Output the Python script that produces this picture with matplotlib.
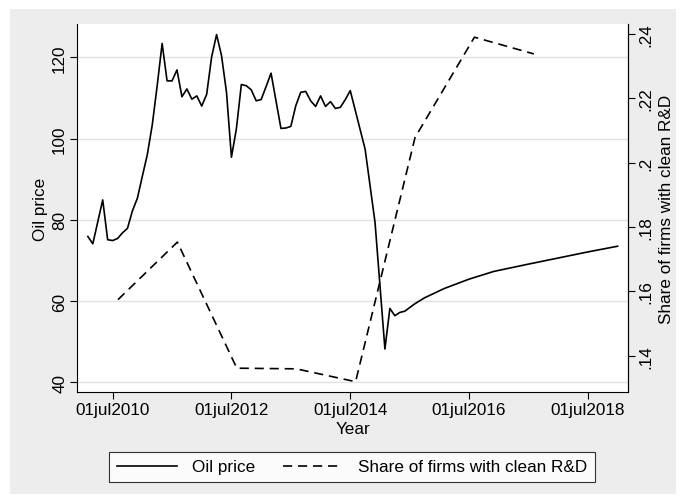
import numpy as np
import matplotlib.pyplot as plt
from matplotlib.patches import Rectangle
from matplotlib.ticker import FixedLocator

# ------------------------- #
# Dados
# ------------------------- #

# oil price, monthly; month index counted from jul 2010 (= 0)
oil_month = [-5, -4, -2, -1, 0, 1, 2, 3, 4, 5, 6, 7, 8, 9, 10, 11, 12, 13, 14,
             15, 16, 17, 18, 19, 20, 21, 22, 23, 24, 25, 26, 27, 28, 29, 30, 31,
             32, 33, 34, 35, 36, 37, 38, 39, 40, 41, 42, 43, 44, 45, 46, 47, 48,
             51, 53, 55, 56, 57, 58, 59, 61, 63, 67, 72, 77, 84, 90, 96, 102]
oil_price = [75.9, 74.1, 84.9, 75.1, 74.9, 75.4, 76.8, 77.9, 82.2, 85.3, 90.7,
             96.0, 103.3, 113.0, 123.4, 114.2, 114.2, 116.9, 110.3, 112.2, 109.7,
             110.5, 108.0, 110.9, 120.1, 125.6, 120.4, 111.4, 95.4, 102.4, 113.3,
             113.0, 112.0, 109.3, 109.6, 112.8, 116.1, 109.3, 102.5, 102.6, 103.0,
             108.1, 111.4, 111.6, 109.3, 107.9, 110.5, 107.9, 109.1, 107.4, 107.7,
             109.6, 111.8, 97.4, 79.4, 48.2, 58.2, 56.4, 57.2, 57.5, 59.3, 60.8,
             63.1, 65.4, 67.3, 69.1, 70.6, 72.1, 73.5]

# share of firms with clean R&D, yearly
share_year = [2010, 2011, 2012, 2013, 2014, 2015, 2016, 2017]
share_clean = [0.1574, 0.1753, 0.1361, 0.1359, 0.1319, 0.2078, 0.2390, 0.2338]

xtick_pos = [2010.5, 2012.5, 2014.5, 2016.5, 2018.5]
xtick_labels = ['01jul2010', '01jul2012', '01jul2014', '01jul2016', '01jul2018']
oil_ticks = [40, 60, 80, 100, 120]
share_ticks = [0.14, 0.16, 0.18, 0.20, 0.22, 0.24]
share_labels = ['.14', '.16', '.18', '.2', '.22', '.24']

oil_x = 2010.5 + np.array(oil_month) / 12
share_x = np.array(share_year) + 0.59

# ------------------------- #
# Gráfico
# ------------------------- #

plt.rcParams['font.family'] = ['Liberation Sans', 'DejaVu Sans']
plt.rcParams['font.size'] = 12.3

BG = '#ededed'
W, H = 686, 502
fig = plt.figure(figsize=(W / 100, H / 100), dpi=100, facecolor='white')
# grey graph region with a thin white margin around it
fig.patches.append(Rectangle((10 / W, 7 / H), 1 - 20 / W, 1 - 17 / H,
                             transform=fig.transFigure, facecolor=BG,
                             edgecolor='none', zorder=-10))

ax = fig.add_axes([0.1122, 0.2165, 0.8037, 0.7337])
ax.set_facecolor('white')

l1, = ax.plot(oil_x, oil_price, color='black', lw=1.2, label='Oil price')
ax.set_xlim(2009.9, 2019.18)
ax.set_ylim(37.54, 128.2)
ax.yaxis.set_major_locator(FixedLocator(oil_ticks))
ax.set_xticks(xtick_pos, xtick_labels)
ax.grid(axis='y', color='#e3e3e3', lw=1.0)
ax.set_axisbelow(True)
ax.set_ylabel('Oil price', labelpad=3)
ax.set_xlabel('Year', labelpad=3)
for lab in ax.get_yticklabels():
    lab.set_rotation(90)
    lab.set_va('center')

ax2 = ax.twinx()
l2, = ax2.plot(share_x, share_clean, color='black', lw=1.2,
               dashes=(5.5, 3.5), label='Share of firms with clean R&D')
ax2.set_ylim(0.1286, 0.2431)
ax2.set_yticks(share_ticks, share_labels)
ax2.set_ylabel('Share of firms with clean R&D', rotation=90, labelpad=4)
for lab in ax2.get_yticklabels():
    lab.set_rotation(90)
    lab.set_va('center')

for a in (ax, ax2):
    a.spines['top'].set_visible(False)
    a.tick_params(direction='out', length=5, width=0.8, color='black', pad=2)
ax2.spines['left'].set_visible(False)
ax2.spines['bottom'].set_visible(False)

leg = fig.legend(handles=[l1, l2], loc='center', ncol=2,
                 bbox_to_anchor=(352 / W, 1 - 468 / H), frameon=True,
                 fancybox=False, edgecolor='black', handlelength=3.5,
                 handletextpad=0.9, columnspacing=1.6, borderpad=0.45)
leg.get_frame().set_linewidth(0.8)

fig.savefig('out.png', dpi=100, facecolor='white')
